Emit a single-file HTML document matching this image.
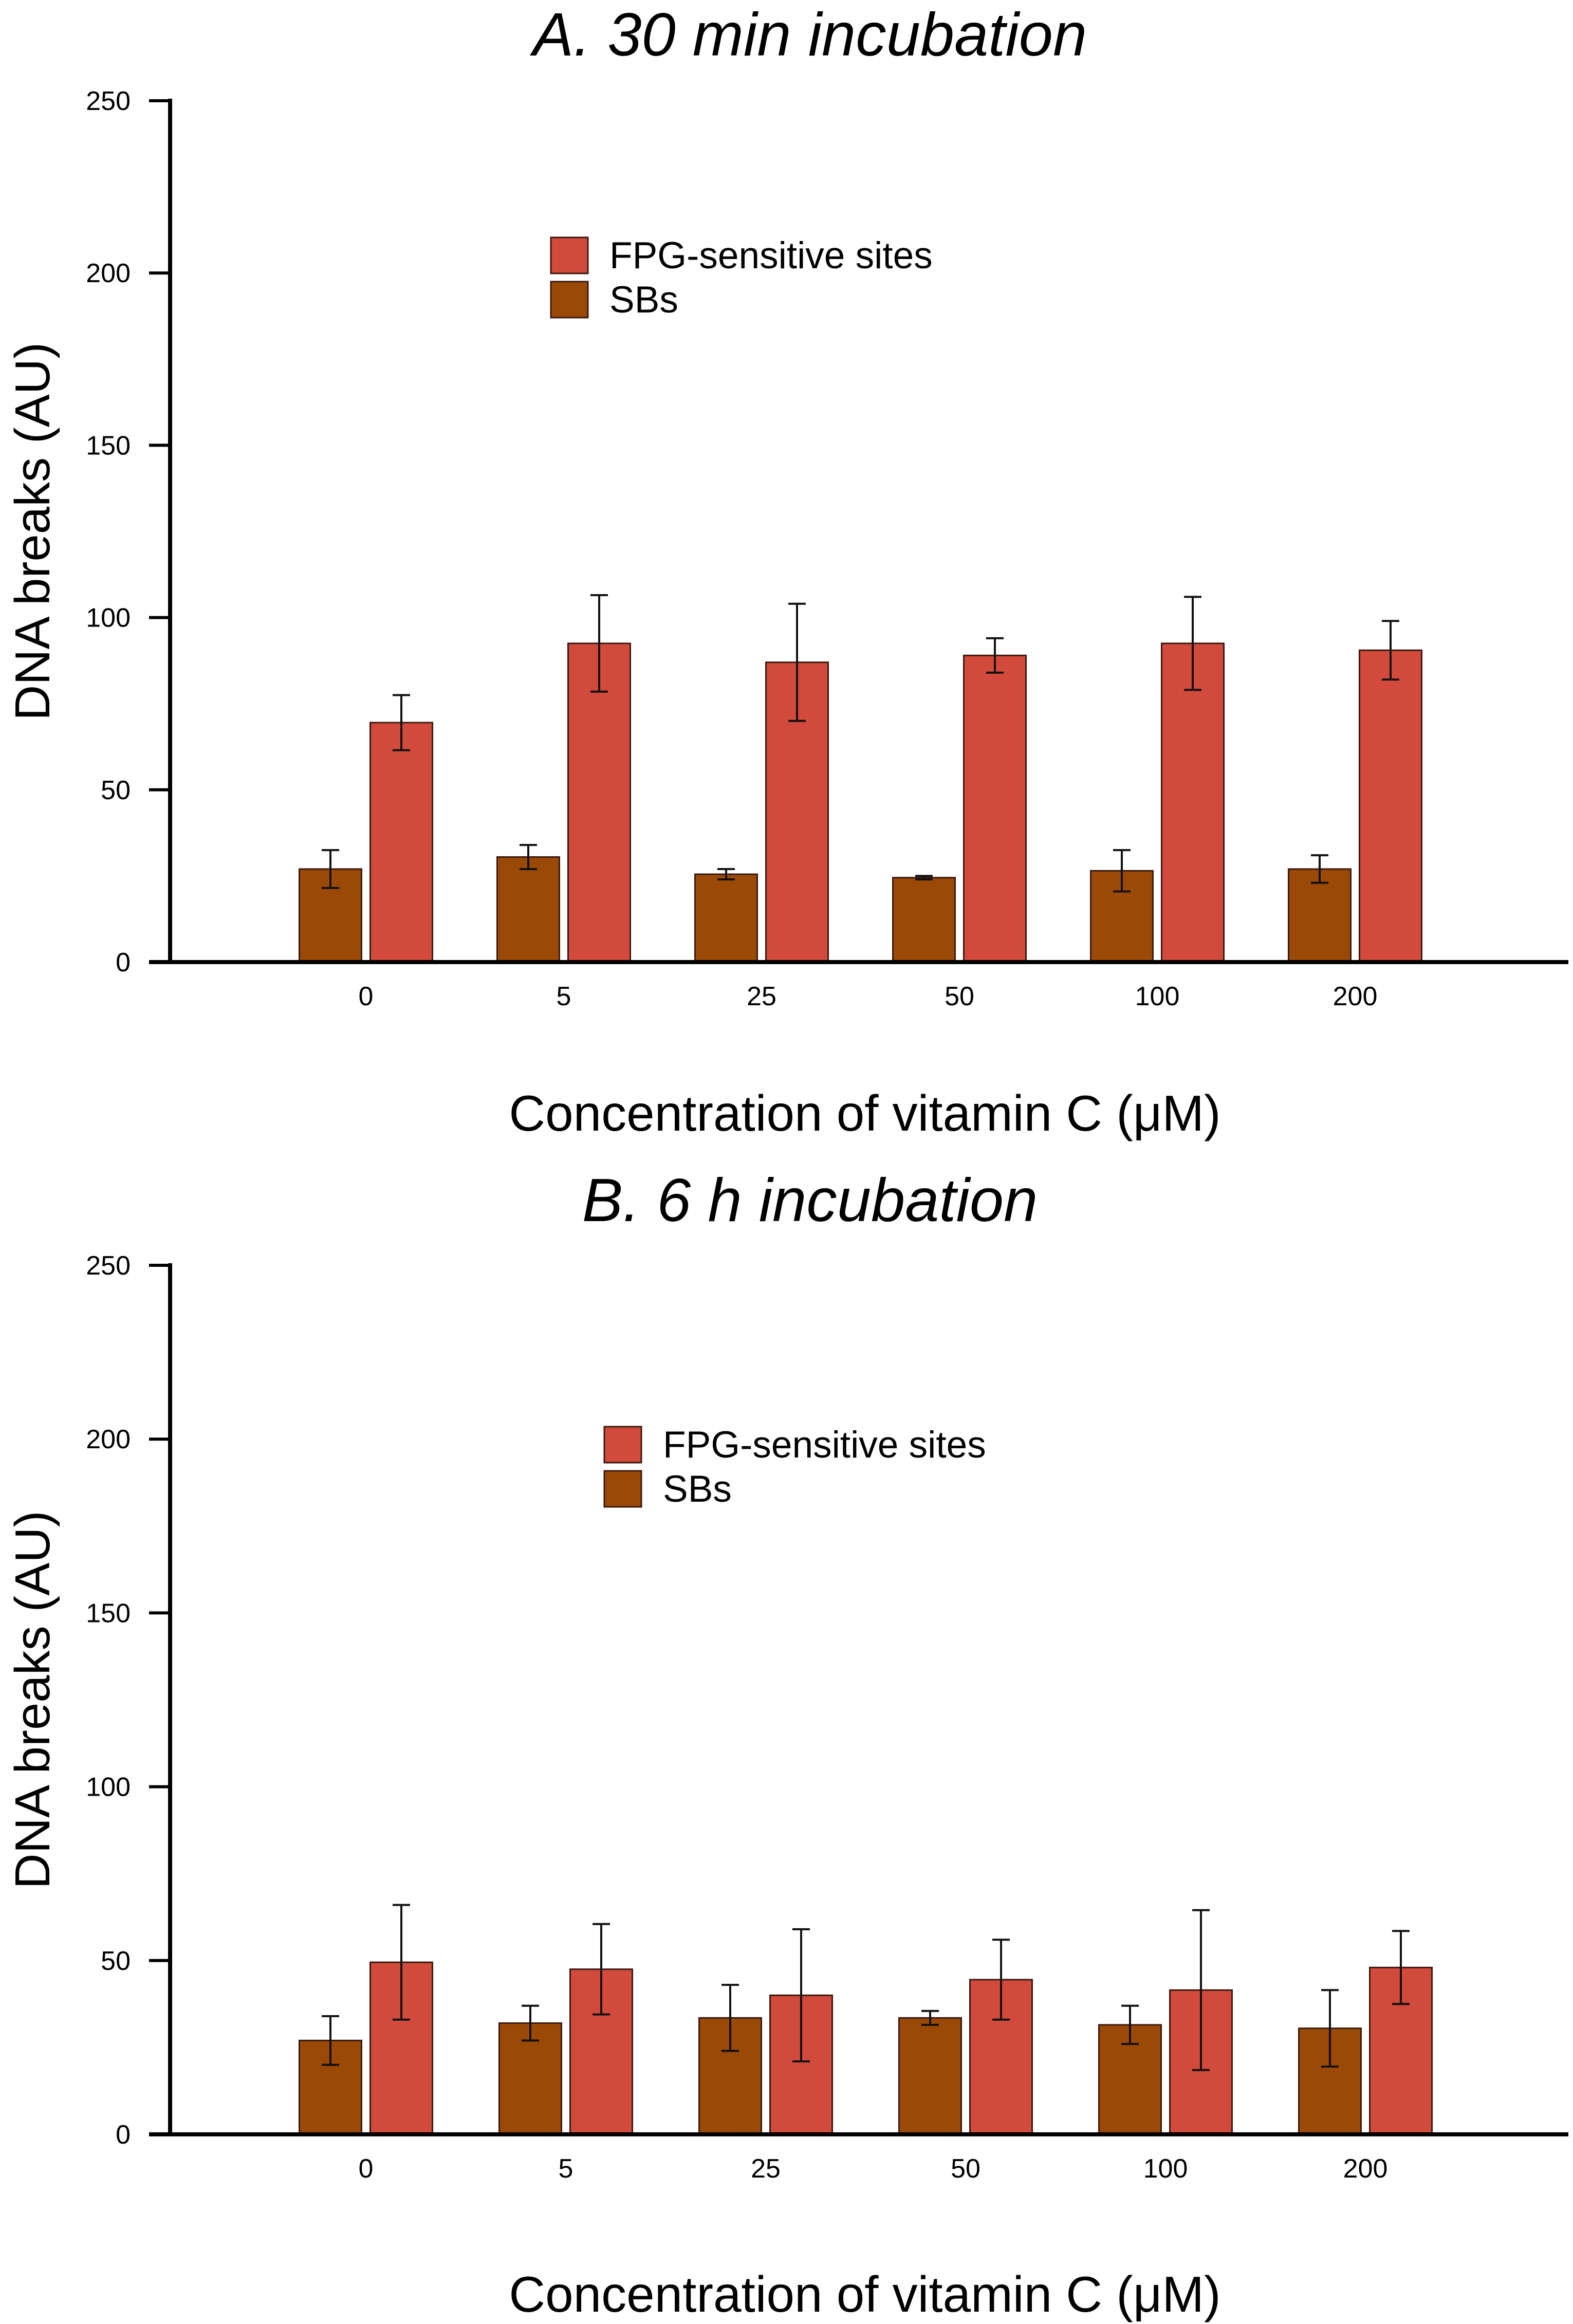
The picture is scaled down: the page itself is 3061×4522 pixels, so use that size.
<!DOCTYPE html>
<html><head><meta charset="utf-8"><style>
html,body{margin:0;padding:0;background:#fff;}
svg{display:block;font-family:"Liberation Sans",sans-serif;}
</style></head><body>
<svg id="chart" width="3061" height="4522" viewBox="0 0 3061 4522" xmlns="http://www.w3.org/2000/svg"></svg>
<script>
const categories = ["0","5","25","50","100","200"];
const yTicks = [0,50,100,150,200,250];
const aSB = [27,30.5,25.5,24.5,26.5,27];
const aSBerr = [5.5,3.5,1.5,0.5,6,4];
const aFPG = [69.5,92.5,87,89,92.5,90.5];
const aFPGerr = [8,14,17,5,13.5,8.5];
const bSB = [27,32,33.5,33.5,31.5,30.5];
const bSBerr = [7,5,9.5,2,5.5,11];
const bFPG = [49.5,47.5,40,44.5,41.5,48];
const bFPGerr = [16.5,13,19,11.5,23,10.5];

const NS="http://www.w3.org/2000/svg";
const svg=document.getElementById('chart');
function mk(tag,attrs,parent,text){const e=document.createElementNS(NS,tag);for(const k in attrs)e.setAttribute(k,attrs[k]);if(text!==undefined)e.textContent=text;(parent||svg).appendChild(e);return e;}

function panel(id,title,titleY,yTop,yBot,groupStart,groupStep,sb,sbe,fpg,fpge,legX,legY,xTitleY){
  const g=mk('g',{});
  
  
  const yS=v=>yBot-(v/250)*(yBot-yTop);
  const xS=i=>groupStart+i*groupStep;
  const t=mk('text',{x:1576,y:titleY,'font-size':119,'font-style':'italic','text-anchor':'middle'},g,title);
  
  
  yTicks.forEach(v=>{
    const l=mk('line',{x1:290,x2:331,y1:yS(v),y2:yS(v),stroke:'#000','stroke-width':6},g);
    
    
    const tx=mk('text',{x:254,y:yS(v)+18,'font-size':52,'text-anchor':'end'},g,String(v));
    
    
  });
  const bw=121, gap=17;
  categories.forEach((c,i)=>{
    const cx=xS(i);
    const bars=[[sb[i],sbe[i],'#9b4906',cx-gap/2-bw,'bar-sbs-'+c],[fpg[i],fpge[i],'#d24a3c',cx+gap/2,'bar-fpg-'+c]];
    bars.forEach(b=>{
      const r=mk('rect',{x:b[3],y:yS(b[0]),width:bw,height:yBot-yS(b[0]),fill:b[2],stroke:'#3a1a10','stroke-width':3},g);
      
      
      const ex=b[3]+bw/2;
      const e=mk('path',{d:`M${ex} ${yS(b[0]-b[1])}V${yS(b[0]+b[1])}M${ex-17} ${yS(b[0]-b[1])}H${ex+17}M${ex-17} ${yS(b[0]+b[1])}H${ex+17}`,stroke:'#111','stroke-width':4,fill:'none'},g);
      
      
    });
    const lb=mk('text',{x:cx,y:yBot+84,'font-size':52,'text-anchor':'middle'},g,c);
    
    
  });
  const ya=mk('line',{x1:331,x2:331,y1:yTop-4,y2:yBot+4,stroke:'#000','stroke-width':8},g);
  
  
  const xa=mk('line',{x1:290,x2:3052,y1:yBot,y2:yBot,stroke:'#000','stroke-width':8},g);
  
  
  const yt=mk('text',{x:0,y:0,'font-size':96,'text-anchor':'middle',transform:`translate(96 ${(yTop+yBot)/2}) rotate(-90)`},g,'DNA breaks (AU)');
  
  
  const xt=mk('text',{x:1683,y:xTitleY,'font-size':98,'text-anchor':'middle'},g,'Concentration of vitamin C (\u03bcM)');
  
  
  const leg=[['#d24a3c','FPG-sensitive sites'],['#9b4906','SBs']];
  leg.forEach((L,k)=>{
    const y=legY+k*86;
    const s=mk('rect',{x:legX,y:y,width:72,height:70,fill:L[0],stroke:'#3a1a10','stroke-width':3},g);
    
    
    const tt=mk('text',{x:legX+114,y:y+60,'font-size':73},g,L[1]);
    
    
  });
}
panel('panel-a','A. 30 min incubation',108,196,1872,712,385,aSB,aSBerr,aFPG,aFPGerr,1072,462,2200);
panel('panel-b','B. 6 h incubation',2376,2462,4153,712,389,bSB,bSBerr,bFPG,bFPGerr,1176,2776,4498);
</script>
</body></html>
